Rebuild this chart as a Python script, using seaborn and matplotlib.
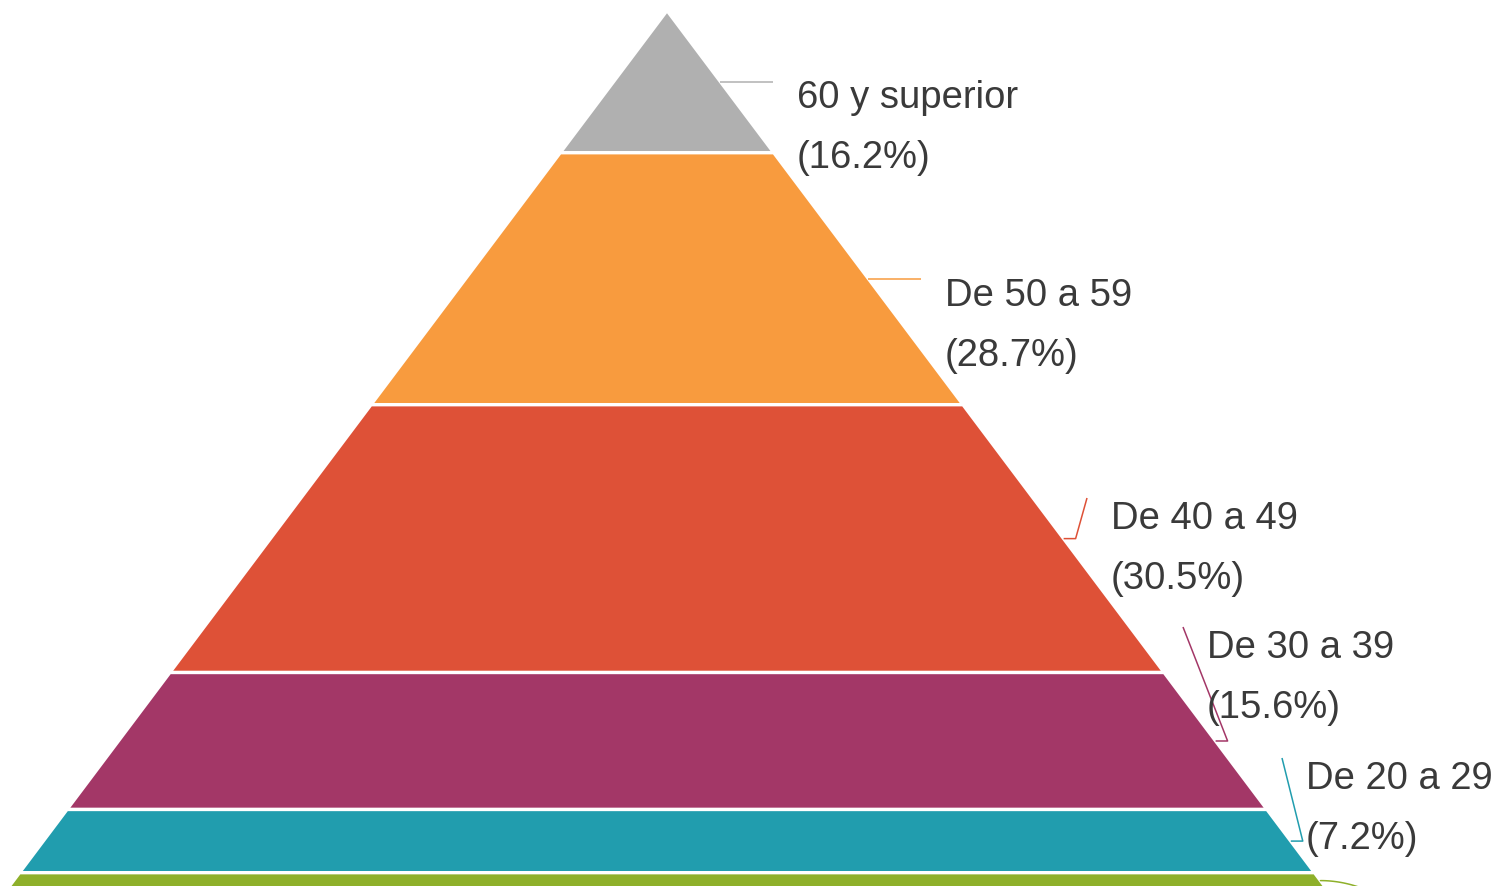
import numpy as np
import matplotlib.pyplot as plt
import seaborn as sns
from matplotlib.patches import Polygon

# datos: grupos de edad de arriba abajo y su porcentaje
grupos = ['60 y superior', 'De 50 a 59', 'De 40 a 49', 'De 30 a 39', 'De 20 a 29', '']
porcentajes = [16.2, 28.7, 30.5, 15.6, 7.2, 1.8]
colores = ['#b0b0b0', '#f89b3e', '#de5137', '#a33767', '#219dae', '#8eb02a']

# posiciones de las etiquetas en pixeles (izquierda, linea base de la 1a linea)
etiqueta_x = [797, 945, 1111, 1207, 1306]
etiqueta_y = [108, 306, 529, 658, 789]

W, H = 1507, 886
PX = 8.78          # pixeles por punto porcentual
APEX_X, APEX_Y = 667, 10.5
PENDIENTE = 0.751  # semiancho / profundidad


def px(x, y):
    """Convierte pixeles de la imagen a coordenadas de datos."""
    return (x - APEX_X) / PX, (y - APEX_Y) / PX


sns.set_theme(style='white')
plt.rcParams['font.family'] = ['Liberation Sans', 'DejaVu Sans']

fig = plt.figure(figsize=(W / 100, H / 100), dpi=100)
ax = fig.add_axes([0, 0, 1, 1])
ax.set_xlim(-APEX_X / PX, (W - APEX_X) / PX)
ax.set_ylim((H - APEX_Y) / PX, -APEX_Y / PX)
ax.set_axis_off()

cum = np.concatenate([[0], np.cumsum(porcentajes)])
for i, col in enumerate(colores):
    y0, y1 = cum[i], cum[i + 1]
    pts = [(-PENDIENTE * y0, y0), (PENDIENTE * y0, y0),
           (PENDIENTE * y1, y1), (-PENDIENTE * y1, y1)]
    ax.add_patch(Polygon(pts, closed=True, facecolor=col, edgecolor='white', linewidth=2.4))

    # linea guia desde el borde derecho a la mitad del tramo
    ym = (y0 + y1) / 2
    xe = PENDIENTE * ym
    if i < len(etiqueta_x):
        ax_, ay_ = px(etiqueta_x[i] - 24, etiqueta_y[i] - 31)
        if abs(ay_ - ym) < 1.0:
            xs, ys = [xe, ax_], [ym, ym]
        else:
            xs, ys = [xe, xe + 12 / PX, ax_], [ym, ym, ay_]
        ax.plot(xs, ys, color=col, lw=1.1, solid_capstyle='butt')

        tx, ty = px(etiqueta_x[i], etiqueta_y[i])
        _, ty2 = px(etiqueta_x[i], etiqueta_y[i] + 60)
        ax.text(tx, ty, grupos[i], fontsize=27.5, color='#3a3a3a', va='baseline', ha='left')
        ax.text(tx, ty2, f'({porcentajes[i]}%)', fontsize=27.5, color='#3a3a3a',
                va='baseline', ha='left')
    else:
        # el ultimo tramo queda cortado en el borde inferior
        t = np.linspace(0, 1, 30)
        ex, ey = px(1395, 905)
        xs = xe + (ex - xe) * t
        ys = ym + (ey - ym) * t ** 2
        ax.plot(xs, ys, color=col, lw=1.1)

fig.savefig('out.png', dpi=100)
